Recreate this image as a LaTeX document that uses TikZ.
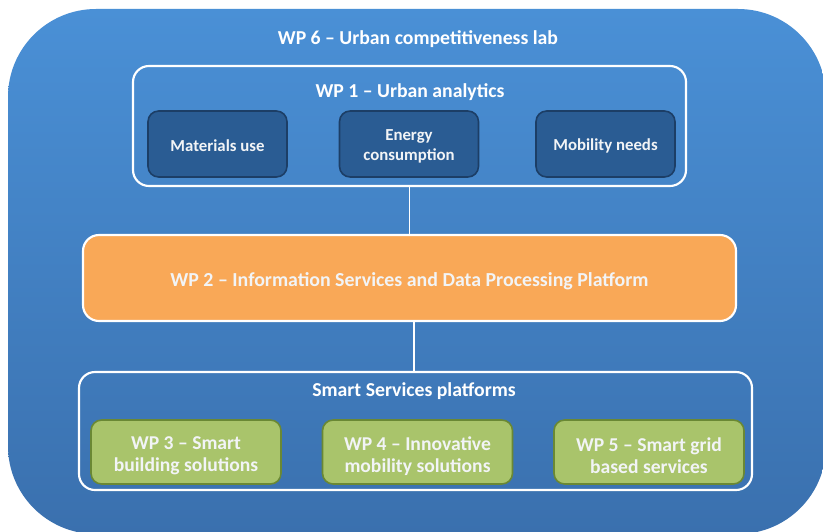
\documentclass[tikz,border=0pt]{standalone}
\usepackage{fontspec}
\setmainfont{Carlito}
\definecolor{labtop}{HTML}{4A90D6}
\definecolor{labbot}{HTML}{3A70AE}
\definecolor{taskfill}{HTML}{2A5C93}
\definecolor{taskline}{HTML}{1C3E66}
\definecolor{platfill}{HTML}{F9A857}
\definecolor{svcfill}{HTML}{A9C46B}
\definecolor{svcline}{HTML}{6A8834}
\definecolor{txt}{HTML}{F2F4F6}
\begin{document}
\begin{tikzpicture}[x=0.75pt,y=-0.75pt,
  frame/.style={draw=white,line width=1.6pt,rounded corners=12pt,inner sep=0pt},
  taskbox/.style={draw=taskline,fill=taskfill,line width=1.2pt,rounded corners=8pt,
    minimum width=104.25pt,minimum height=49.5pt,inner sep=0pt,
    label={[align=center,inner sep=0pt,yshift=-1.5pt,text=txt,
      font=\bfseries\fontsize{12.6}{15}\selectfont]center:#1}},
  svcbox/.style={draw=svcline,fill=svcfill,line width=1.2pt,rounded corners=8pt,
    minimum width=142.5pt,minimum height=48pt,inner sep=0pt,
    label={[align=center,inner sep=0pt,yshift=-3pt,text=txt,
      font=\bfseries\fontsize{14.7}{16.5}\selectfont]center:#1}},
  heading/.style={text=white,font=\bfseries\fontsize{14.8}{16}\selectfont,inner sep=0pt},
  link/.style={draw=white,line width=1.4pt}]
\useasboundingbox (0,0) rectangle (823,531);
\fill[white] (0,0) rectangle (823,531);
% outer lab container
\shade[top color=labtop,bottom color=labbot,rounded corners=66pt] (8,9) rectangle (826,534);
\node[heading] (t6) at (418,39) {WP 6 – Urban competitiveness lab};
% WP 1 frame with its three tasks
\node[frame,minimum width=414.75pt,minimum height=90pt] (wp1) at (409.5,126) {};
\node[heading] (t1) at (410,92) {WP 1 – Urban analytics};
\node[taskbox={Materials use}] (mat) at (217.5,144) {};
\node[taskbox={Energy\\consumption}] (ene) at (409,144) {};
\node[taskbox={Mobility needs}] (mob) at (605.5,144) {};
% WP 2 platform
\node[draw=white,line width=1.6pt,fill=platfill,rounded corners=12pt,
  minimum width=489.75pt,minimum height=64.5pt,inner sep=0pt] (wp2) at (409.5,278) {};
\node[text=txt,font=\bfseries\fontsize{14.9}{16}\selectfont,inner sep=0pt] (t2) at (409.5,281)
  {WP 2 – Information Services and Data Processing Platform};
% smart services frame
\node[frame,minimum width=504.75pt,minimum height=88.5pt] (smart) at (415.5,431) {};
\node[heading] (tss) at (414,391) {Smart Services platforms};
\node[svcbox={WP 3 – Smart\\building solutions}] (wp3) at (186,452) {};
\node[svcbox={WP 4 – Innovative\\mobility solutions}] (wp4) at (417.5,452) {};
\node[svcbox={WP 5 – Smart grid\\based services}] (wp5) at (649,452) {};
% connectors
\draw[link] (wp1.south) -- (wp2.north);
\draw[link] (smart.north -| 414,0) -- (wp2.south -| 414,0);
\end{tikzpicture}
\end{document}
